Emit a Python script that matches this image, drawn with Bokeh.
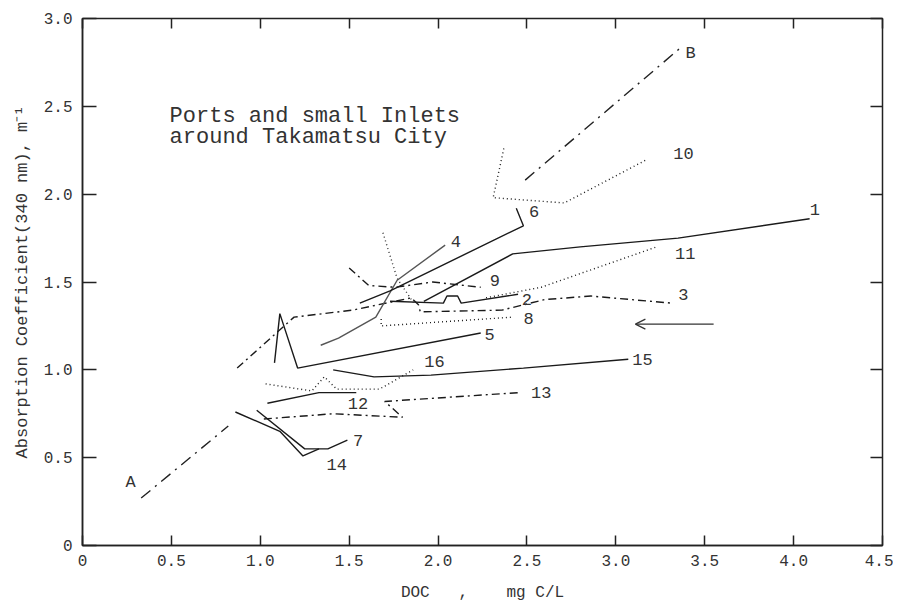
from bokeh.plotting import figure
from bokeh.models import Range1d, LinearAxis, FixedTicker, Arrow, OpenHead, Label
from bokeh.embed import file_html
from bokeh.resources import INLINE

# ---------------- data ----------------
x_ticks = [0, 0.5, 1.0, 1.5, 2.0, 2.5, 3.0, 3.5, 4.0, 4.5]
x_tick_labels = ["0", "0.5", "1.0", "1.5", "2.0", "2.5", "3.0", "3.5", "4.0", "4.5"]
y_ticks = [0, 0.5, 1.0, 1.5, 2.0, 2.5, 3.0]
y_tick_labels = ["0", "0.5", "1.0", "1.5", "2.0", "2.5", "3.0"]

lineA_x = [0.33, 0.82]
lineA_y = [0.27, 0.68]
lineB_x = [2.49, 3.36]
lineB_y = [2.08, 2.83]

line1_x = [1.92, 2.42, 2.80, 3.35, 4.09]
line1_y = [1.39, 1.66, 1.70, 1.75, 1.86]
line2_x = [1.73, 2.03, 2.05, 2.11, 2.13, 2.45]
line2_y = [1.39, 1.38, 1.42, 1.42, 1.38, 1.43]
line3_x = [0.87, 1.19, 1.52, 1.85, 1.89, 1.90, 2.36, 2.60, 2.86, 3.31]
line3_y = [1.01, 1.30, 1.34, 1.41, 1.37, 1.33, 1.34, 1.40, 1.42, 1.38]
line4_x = [1.34, 1.44, 1.65, 1.77, 2.04]
line4_y = [1.14, 1.18, 1.30, 1.51, 1.71]
line5_x = [1.08, 1.11, 1.21, 2.24]
line5_y = [1.04, 1.32, 1.01, 1.21]
line6_x = [1.56, 1.73, 2.48, 2.44]
line6_y = [1.38, 1.45, 1.82, 1.92]
line7_x = [0.98, 1.25, 1.38, 1.49]
line7_y = [0.77, 0.55, 0.55, 0.60]
line8_x = [1.68, 1.68, 2.42]
line8_y = [1.29, 1.25, 1.30]
line8a_x = [1.69, 1.77, 1.87]
line8a_y = [1.78, 1.52, 1.37]
line9_x = [1.50, 1.61, 1.76, 1.97, 2.24]
line9_y = [1.58, 1.48, 1.47, 1.50, 1.47]
line10_x = [2.37, 2.31, 2.71, 3.18]
line10_y = [2.26, 1.98, 1.95, 2.20]
line11_x = [2.27, 2.58, 3.23]
line11_y = [1.41, 1.47, 1.70]
line12_x = [1.04, 1.33, 1.54]
line12_y = [0.81, 0.87, 0.87]
line13_x = [1.02, 1.41, 1.80, 1.70, 2.45]
line13_y = [0.72, 0.75, 0.73, 0.82, 0.87]
line14_x = [0.86, 1.11, 1.24, 1.33]
line14_y = [0.76, 0.65, 0.51, 0.55]
line15_x = [1.41, 1.64, 1.96, 2.48, 3.07]
line15_y = [1.00, 0.96, 0.97, 1.01, 1.06]
line16_x = [1.03, 1.29, 1.36, 1.43, 1.67, 1.86]
line16_y = [0.92, 0.88, 0.96, 0.89, 0.89, 1.00]

label_text = ["A", "B", "1", "2", "3", "4", "5", "6", "7", "8", "9", "10",
              "11", "12", "13", "14", "15", "16"]
label_x = [0.27, 3.42, 4.12, 2.50, 3.38, 2.10, 2.29, 2.54, 1.55, 2.51, 2.32, 3.38,
           3.39, 1.55, 2.58, 1.43, 3.15, 1.98]
label_y = [0.36, 2.80, 1.91, 1.40, 1.43, 1.73, 1.20, 1.90, 0.60, 1.29, 1.51, 2.23,
           1.66, 0.81, 0.87, 0.46, 1.06, 1.05]

arrow_x_start, arrow_x_end = 3.55, 3.11
arrow_y = 1.26

note_lines = ["Ports and small Inlets", "around Takamatsu City"]
note_x = 0.49
note_y = [2.44, 2.32]

NB = "\u00a0"
x_title = "DOC" + NB * 3 + "," + NB * 4 + "mg" + NB + "C/L"
y_title = "Absorption" + NB + "Coefficient(340" + NB + "nm)," + NB + "m\u207b\u00b9"

# ---------------- styles ----------------
SOLID = "solid"
DOT = "1 3"
DASHDOT = "8 4 2 4"
LONGDD = "12 6 2 6"

series = [
    (lineA_x, lineA_y, LONGDD, "#222222"),
    (lineB_x, lineB_y, LONGDD, "#222222"),
    (line1_x, line1_y, SOLID, "#1a1a1a"),
    (line2_x, line2_y, SOLID, "#1a1a1a"),
    (line3_x, line3_y, DASHDOT, "#1a1a1a"),
    (line4_x, line4_y, SOLID, "#555555"),
    (line5_x, line5_y, SOLID, "#1a1a1a"),
    (line6_x, line6_y, SOLID, "#1a1a1a"),
    (line7_x, line7_y, SOLID, "#1a1a1a"),
    (line8_x, line8_y, DOT, "#1a1a1a"),
    (line8a_x, line8a_y, DOT, "#333333"),
    (line9_x, line9_y, DASHDOT, "#1a1a1a"),
    (line10_x, line10_y, DOT, "#1a1a1a"),
    (line11_x, line11_y, DOT, "#1a1a1a"),
    (line12_x, line12_y, SOLID, "#1a1a1a"),
    (line13_x, line13_y, DASHDOT, "#1a1a1a"),
    (line14_x, line14_y, SOLID, "#1a1a1a"),
    (line15_x, line15_y, SOLID, "#1a1a1a"),
    (line16_x, line16_y, DOT, "#1a1a1a"),
]

FONT = "Liberation Mono"
TXT = "#333333"

p = figure(width=893, height=605, output_backend="svg", toolbar_location=None,
           x_range=Range1d(0, 4.5), y_range=Range1d(0, 3.0),
           min_border_left=82, min_border_right=11, min_border_top=18, min_border_bottom=60)
p.xgrid.visible = False
p.ygrid.visible = False
p.outline_line_color = "#222222"
p.outline_line_width = 1.5
p.background_fill_color = "white"
p.border_fill_color = "white"

xover = {t: l for t, l in zip(x_ticks, x_tick_labels)}
yover = {t: l for t, l in zip(y_ticks, y_tick_labels)}

for ax in p.xaxis:
    ax.ticker = FixedTicker(ticks=x_ticks)
    ax.major_label_overrides = xover
    ax.major_tick_in = 10
    ax.major_tick_out = 0
    ax.minor_tick_line_color = None
    ax.axis_line_color = "#222222"
    ax.axis_line_width = 1.5
    ax.major_tick_line_width = 1.5
    ax.major_tick_line_color = "#222222"
    ax.major_label_text_font = FONT
    ax.major_label_text_font_size = "16px"
    ax.major_label_text_color = TXT
    ax.major_label_standoff = 9
    ax.axis_label = x_title
    ax.axis_label_text_font = FONT
    ax.axis_label_text_font_size = "16px"
    ax.axis_label_text_font_style = "normal"
    ax.axis_label_text_color = TXT
    ax.axis_label_standoff = 15

for ax in p.yaxis:
    ax.ticker = FixedTicker(ticks=y_ticks)
    ax.major_label_overrides = yover
    ax.major_tick_in = 14
    ax.major_tick_out = 0
    ax.minor_tick_line_color = None
    ax.axis_line_color = "#222222"
    ax.axis_line_width = 1.5
    ax.major_tick_line_width = 1.5
    ax.major_tick_line_color = "#222222"
    ax.major_label_text_font = FONT
    ax.major_label_text_font_size = "16px"
    ax.major_label_text_color = TXT
    ax.major_label_standoff = 10
    ax.axis_label = y_title
    ax.axis_label_text_font = FONT
    ax.axis_label_text_font_size = "17px"
    ax.axis_label_text_font_style = "normal"
    ax.axis_label_text_color = TXT
    ax.axis_label_standoff = 9

top = LinearAxis(ticker=FixedTicker(ticks=x_ticks), major_tick_in=10, major_tick_out=0,
                 minor_tick_line_color=None, axis_line_color=None,
                 major_tick_line_width=1.5, major_tick_line_color="#222222",
                 major_label_text_font_size="1px", major_label_text_color=None,
                 major_label_standoff=0)
right = LinearAxis(ticker=FixedTicker(ticks=y_ticks), major_tick_in=12, major_tick_out=0,
                   minor_tick_line_color=None, axis_line_color=None,
                   major_tick_line_width=1.5, major_tick_line_color="#222222",
                   major_label_text_font_size="1px", major_label_text_color=None,
                   major_label_standoff=0)
p.add_layout(top, "above")
p.add_layout(right, "right")

for xs, ys, dash, col in series:
    p.line(xs, ys, line_color=col, line_width=1.4, line_dash=dash)

for t, x, y in zip(label_text, label_x, label_y):
    p.add_layout(Label(x=x, y=y, text=t, text_font=FONT, text_font_size="17px",
                       text_color=TXT, text_align="center", text_baseline="middle"))

for t, y in zip(note_lines, note_y):
    p.add_layout(Label(x=note_x, y=y, text=t, text_font=FONT, text_font_size="22px",
                       text_color=TXT, text_align="left", text_baseline="middle"))

p.add_layout(Arrow(end=OpenHead(size=10, line_width=1.3, line_color=TXT),
                   x_start=arrow_x_start, y_start=arrow_y, x_end=arrow_x_end, y_end=arrow_y,
                   line_color=TXT, line_width=1.3))

open("out.html", "w").write(file_html(p, INLINE))
